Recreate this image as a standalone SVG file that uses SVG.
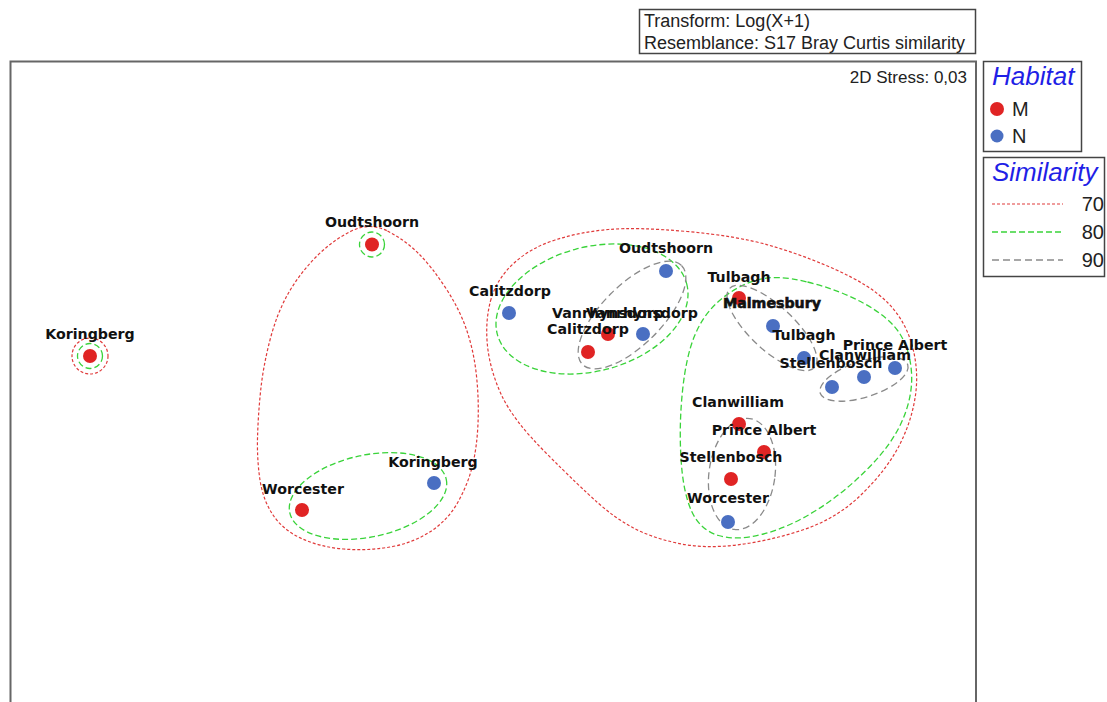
<svg xmlns="http://www.w3.org/2000/svg" width="1107" height="702" viewBox="0 0 1107 702">
<style>
.lbl{font-family:"DejaVu Sans",sans-serif;font-weight:bold;font-size:14.2px;fill:#111;text-anchor:middle}
.m{fill:#e02424}
.n{fill:#4a6fc2}
.c70{fill:none;stroke:#e03a3a;stroke-width:1.2;stroke-dasharray:3 2}
.c80{fill:none;stroke:#3ad33a;stroke-width:1.3;stroke-dasharray:6 3}
.c90{fill:none;stroke:#8a8a8a;stroke-width:1.3;stroke-dasharray:7 4}
.box{fill:#fff;stroke:#444;stroke-width:1.5}
.txt{font-family:"Liberation Sans",Arial,sans-serif;fill:#222}
.ttl{font-family:"Liberation Sans",Arial,sans-serif;font-style:italic;fill:#1f1fe6}
</style>
<rect width="1107" height="702" fill="#fff"/>
<!-- plot frame -->
<rect x="10.5" y="61.5" width="965.5" height="660" fill="none" stroke="#666" stroke-width="2"/>
<text class="txt" x="967" y="83" font-size="17" text-anchor="end">2D Stress: 0,03</text>

<!-- header box -->
<g id="header">
<rect class="box" x="639.5" y="9.5" width="336" height="44"/>
<text class="txt" x="644" y="27" font-size="18">Transform: Log(X+1)</text>
<text class="txt" x="644" y="49" font-size="18">Resemblance: S17 Bray Curtis similarity</text>
</g>

<!-- legends -->
<g id="legend-habitat">
<rect class="box" x="983.5" y="61.5" width="98" height="90"/>
<text class="ttl" x="992" y="85" font-size="26">Habitat</text>
<circle class="m" cx="997" cy="109" r="7"/>
<text class="txt" x="1012" y="116" font-size="20">M</text>
<circle class="n" cx="997" cy="136" r="6.5"/>
<text class="txt" x="1012" y="143" font-size="20">N</text>
</g>
<g id="legend-similarity">
<rect class="box" x="983.5" y="157.5" width="121" height="119"/>
<text class="ttl" x="992" y="181" font-size="26">Similarity</text>
<line class="c70" x1="992" y1="204" x2="1063" y2="204"/>
<line class="c80" x1="992" y1="232" x2="1063" y2="232"/>
<line class="c90" x1="992" y1="260" x2="1063" y2="260"/>
<text class="txt" x="1104" y="211" font-size="20" text-anchor="end">70</text>
<text class="txt" x="1104" y="239" font-size="20" text-anchor="end">80</text>
<text class="txt" x="1104" y="267" font-size="20" text-anchor="end">90</text>
</g>

<!-- similarity contours -->
<g id="connectors">
<circle class="c70" cx="90" cy="356" r="18"/>
<circle class="c80" cx="90" cy="356" r="12.5"/>
<circle class="c80" cx="372" cy="244.5" r="12.5"/>
<path class="c70" d="M 387.5,231 Q 405,240 418.5,253.5 Q 432,267 446,288.5 Q 460,310 467,331 Q 474,352 476.5,376 Q 479,400 478,423.5 Q 477,447 472.5,465.5 Q 468,484 458,502 Q 448,520 430.5,531.5 Q 413,543 390,547 Q 367,551 343.5,549 Q 320,547 301.5,538.5 Q 283,530 273,515 Q 263,500 260,480 Q 257,460 257.5,438.5 Q 258,417 260.5,392 Q 263,367 270,340 Q 277,313 288.5,293 Q 300,273 316.5,256.5 Q 333,240 351.5,231 Q 370,222 387.5,231 Z"/>
<ellipse class="c80" cx="368" cy="496" rx="80" ry="41" transform="rotate(-12 368 496)"/>
<path class="c70" d="M 490.5,301 Q 496,280 513,264 Q 530,248 555,240 Q 580,232 608.5,229.5 Q 637,227 687,231.5 Q 737,236 770,245.5 Q 803,255 836.5,270 Q 870,285 887.5,302.5 Q 905,320 912,345 Q 919,370 915.5,395 Q 912,420 900,444 Q 888,468 863,493 Q 838,518 804,529.5 Q 770,541 736.5,545 Q 703,549 676.5,543 Q 650,537 632.5,527.5 Q 615,518 597.5,502.5 Q 580,487 546.5,453.5 Q 513,420 501.5,395 Q 490,370 487.5,346 Q 485,322 490.5,301 Z"/>
<ellipse class="c80" cx="592" cy="309" rx="98" ry="62" transform="rotate(-15 592 309)"/>
<ellipse class="c90" cx="632" cy="315" rx="70" ry="30" transform="rotate(-45 632 315)"/>
<path class="c80" d="M 807.5,282 Q 840,290 865,304 Q 890,318 900,334 Q 910,350 911.5,372.5 Q 913,395 903,419 Q 893,443 869,467.5 Q 845,492 817.5,509.5 Q 790,527 763.5,534 Q 737,541 718.5,535.5 Q 700,530 691.5,511 Q 683,492 681,458.5 Q 679,425 682.5,391 Q 686,357 694.5,336 Q 703,315 719,301 Q 735,287 755,280.5 Q 775,274 807.5,282 Z"/>
<ellipse class="c90" cx="772" cy="328" rx="58" ry="22" transform="rotate(43 772 328)"/>
<ellipse class="c90" cx="864" cy="379" rx="46" ry="18" transform="rotate(-18 864 379)"/>
<ellipse class="c90" cx="742" cy="474" rx="33" ry="56" transform="rotate(8 742 474)"/>
</g>

<!-- sites -->
<g id="koringberg-m"><circle class="m" cx="90" cy="356" r="7"/><text class="lbl" x="90" y="339">Koringberg</text></g>
<g id="oudtshoorn-m"><circle class="m" cx="372" cy="244.5" r="7"/><text class="lbl" x="372" y="227">Oudtshoorn</text></g>
<g id="worcester-m"><circle class="m" cx="302" cy="510" r="7"/><text class="lbl" x="303" y="494">Worcester</text></g>
<g id="koringberg-n"><circle class="n" cx="434" cy="483" r="7"/><text class="lbl" x="433" y="467">Koringberg</text></g>
<g id="calitzdorp-n"><circle class="n" cx="509" cy="313" r="7"/><text class="lbl" x="510" y="296">Calitzdorp</text></g>
<g id="oudtshoorn-n"><circle class="n" cx="666" cy="271" r="7"/><text class="lbl" x="666" y="253">Oudtshoorn</text></g>
<g id="vanrhynsdorp-m"><circle class="m" cx="608" cy="334" r="7"/><text class="lbl" x="608" y="318">Vanrhynsdorp</text></g>
<g id="vanrhynsdorp-n"><circle class="n" cx="643" cy="334" r="7"/><text class="lbl" x="642" y="318">Vanrhynsdorp</text></g>
<g id="calitzdorp-m"><circle class="m" cx="588" cy="352" r="7"/><text class="lbl" x="588" y="334">Calitzdorp</text></g>
<g id="tulbagh-m"><circle class="m" cx="739" cy="298" r="7"/><text class="lbl" x="739" y="282">Tulbagh</text></g>
<g id="malmesbury-n"><circle class="n" cx="773" cy="326" r="7"/><text class="lbl" x="772" y="308" stroke="#111" stroke-width="0.6">Malmesbury</text></g>
<g id="tulbagh-n"><circle class="n" cx="804" cy="358" r="7"/><text class="lbl" x="804" y="340">Tulbagh</text></g>
<g id="stellenbosch-n"><circle class="n" cx="832" cy="387" r="7"/><text class="lbl" x="831" y="368">Stellenbosch</text></g>
<g id="clanwilliam-n"><circle class="n" cx="864" cy="377" r="7"/><text class="lbl" x="865" y="360">Clanwilliam</text></g>
<g id="princealbert-n"><circle class="n" cx="895" cy="368" r="7"/><text class="lbl" x="895" y="350">Prince Albert</text></g>
<g id="clanwilliam-m"><circle class="m" cx="739" cy="424" r="7"/><text class="lbl" x="738" y="407">Clanwilliam</text></g>
<g id="princealbert-m"><circle class="m" cx="764" cy="452" r="7"/><text class="lbl" x="764" y="435">Prince Albert</text></g>
<g id="stellenbosch-m"><circle class="m" cx="731" cy="479" r="7"/><text class="lbl" x="731" y="462">Stellenbosch</text></g>
<g id="worcester-n"><circle class="n" cx="728" cy="522" r="7"/><text class="lbl" x="728" y="503">Worcester</text></g>
</svg>
